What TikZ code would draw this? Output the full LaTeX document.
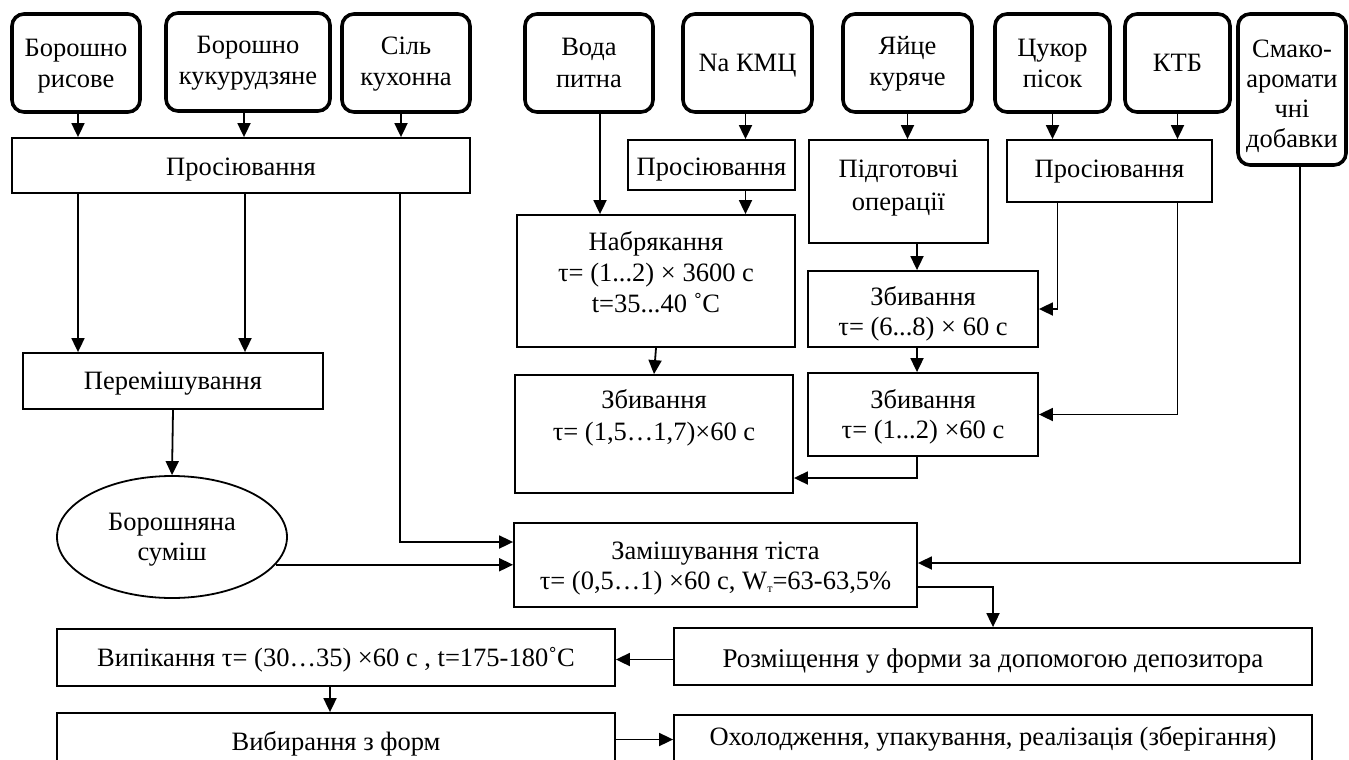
\documentclass[tikz,border=0pt]{standalone}
\usepackage{fontspec}
\setmainfont{Liberation Serif}
\usetikzlibrary{arrows.meta,shapes.geometric}
% width, height, first baseline offset, text
\newcommand{\bxt}[4]{\parbox[c][#2pt][t]{#1pt}{\centering\rule{0pt}{#3pt}#4\par}}
\tikzset{
  rbox/.style={draw,line width=3.6pt,rounded corners=12pt,inner sep=0pt},
  pbox/.style={draw,line width=1.8pt,inner sep=0pt},
  ebox/.style={draw,line width=1.8pt,ellipse,inner sep=0pt},
  arr/.style={line width=1.8pt,-{Triangle[length=14pt,width=13pt]}},
  every node/.style={font=\fontsize{26.5}{31}\selectfont}
}
\begin{document}
\begin{tikzpicture}[x=1pt,y=-1pt]
\useasboundingbox (0,0) rectangle (1349,760);
\clip (0,0) rectangle (1349,760);
% top raw material boxes
\node[rbox] (r1) at (76,63)    {\bxt{128}{98}{43}{Борошно\\рисове}};
\node[rbox] (r2) at (248,62)   {\bxt{164}{98}{41}{Борошно\\кукурудзяне}};
\node[rbox] (r3) at (406,63)   {\bxt{128}{98}{41}{Сіль\\кухонна}};
\node[rbox] (r4) at (589,63)   {\bxt{128}{98}{42}{Вода\\питна}};
\node[rbox] (r5) at (747.5,63) {\bxt{129}{98}{58}{Na КМЦ}};
\node[rbox] (r6) at (907.5,63) {\bxt{129}{98}{41}{Яйце\\куряче}};
\node[rbox] (r7) at (1052.5,63){\bxt{115}{98}{43}{Цукор\\пісок}};
\node[rbox] (r8) at (1177.5,63){\bxt{105}{98}{58}{КТБ}};
\node[rbox] (r9) at (1292,89.5){\fontsize{26.5}{30}\selectfont\bxt{108}{151}{43}{Смако-\\аромати\\чні\\добавки}};
% process boxes
\node[pbox] (p1) at (241,165.5)  {\bxt{458}{55}{37}{Просіювання}};
\node[pbox] (p2) at (711.5,165)  {\bxt{167}{50}{35}{Просіювання}};
\node[pbox] (p3) at (898.5,191.5){\fontsize{26.5}{33}\selectfont\bxt{179}{103}{37}{Підготовчі\\операції}};
\node[pbox] (p4) at (1109.5,171) {\bxt{205}{62}{37}{Просіювання}};
\node[pbox] (n1) at (656,281)    {\bxt{278}{132}{35}{Набрякання\\τ= (1...2) × 3600 с\\t=35...40 ˚С}};
\node[pbox] (z1) at (654,434)    {\fontsize{26.5}{32}\selectfont\bxt{278}{118}{33}{Збивання\\τ= (1,5…1,7)×60 с}};
\node[pbox] (z2) at (923,309)    {\fontsize{26.5}{30}\selectfont\bxt{230}{76}{34}{Збивання\\τ= (6...8) × 60 с}};
\node[pbox] (z3) at (923,414.5)  {\fontsize{26.5}{30}\selectfont\bxt{230}{83}{35}{Збивання\\τ= (1...2) ×60 с}};
\node[pbox] (m1) at (173,381)    {\bxt{300}{56}{36}{Перемішування}};
\node[ebox,minimum width=230pt,minimum height=122pt] (e1) at (172,537)
      {\fontsize{26.5}{30}\selectfont\bxt{140}{60}{23}{Борошняна\\суміш}};
\node[pbox] (k1) at (715.5,565)  {\fontsize{26.5}{30}\selectfont\bxt{403}{84}{36}{Замішування тіста\\τ= (0,5…1) ×60 с, W\raisebox{-0.25ex}{\fontsize{12}{12}\selectfont т}=63-63,5\%}};
\node[pbox] (d1) at (993,656.5)  {\fontsize{27}{31}\selectfont\bxt{638}{57}{39}{Розміщення у форми за допомогою депозитора}};
\node[pbox] (b1) at (336,657.5)  {\bxt{558}{57}{37}{Випікання τ= (30…35) ×60 с , t=175-180˚С}};
\node[pbox] (v1) at (336,741.5)  {\bxt{558}{57}{37}{Вибирання з форм}};
\node[pbox] (o1) at (993,742.5)  {\bxt{638}{55}{30}{Охолодження, упакування, реалізація (зберігання)}};
% connectors
\draw[arr] ([xshift=2pt]r1.south) -- ([xshift=2pt]r1.south |- p1.north);
\draw[arr] ([xshift=-4pt]r2.south) -- ([xshift=-4pt]r2.south |- p1.north);
\draw[arr] ([xshift=-5pt]r3.south) -- ([xshift=-5pt]r3.south |- p1.north);
\draw[arr] ([xshift=2pt]p1.south -| r1.south) -- ([xshift=2pt]m1.north -| r1.south);
\draw[arr] ([xshift=-3pt]p1.south -| r2.south) -- ([xshift=-3pt]m1.north -| r2.south);
\draw[arr] ([xshift=-6pt]p1.south -| r3.south) |- ([yshift=23pt]k1.west);
\draw[arr] (m1.south) -- (e1.north);
\draw[arr] (e1.-15) -- (e1.-15 -| k1.west);
\draw[arr] ([xshift=11pt]r4.south) -- ([xshift=11pt]r4.south |- n1.north);
\draw[arr] ([xshift=-2pt]r5.south) -- ([xshift=-2pt]r5.south |- p2.north);
\draw[arr] ([xshift=-2pt]p2.south -| r5.south) -- ([xshift=-2pt]n1.north -| r5.south);
\draw[arr] (n1.south) -- (z1.north);
\draw[arr] (r6.south) -- (r6.south |- p3.north);
\draw[arr] ([xshift=-6pt]z2.north |- p3.south) -- ([xshift=-6pt]z2.north);
\draw[arr] ([xshift=-6pt]z2.south) -- ([xshift=-6pt]z3.north);
\draw[arr] ([xshift=-6pt]z3.south) |- ([yshift=-44pt]z1.east);
\draw[arr] (r7.south) -- (r7.south |- p4.north);
\draw[arr] (r8.south) -- (r8.south |- p4.north);
\draw[arr] ([xshift=5pt]p4.south -| r7.south) |- (z2.east);
\draw[arr] (p4.south -| r8.south) |- (z3.east);
\draw[arr] ([xshift=8pt]r9.south) |- ([yshift=2pt]k1.east);
\draw[arr] ([yshift=-22pt]k1.east) -| (d1.north);
\draw[arr] ([yshift=-3pt]d1.west) -- ([yshift=-3pt]d1.west -| b1.east);
\draw[arr] ([xshift=-6pt]b1.south) -- ([xshift=-6pt]v1.north);
\draw[arr] ([yshift=2pt]v1.east) -- ([yshift=2pt]v1.east -| o1.west);
\end{tikzpicture}
\end{document}
